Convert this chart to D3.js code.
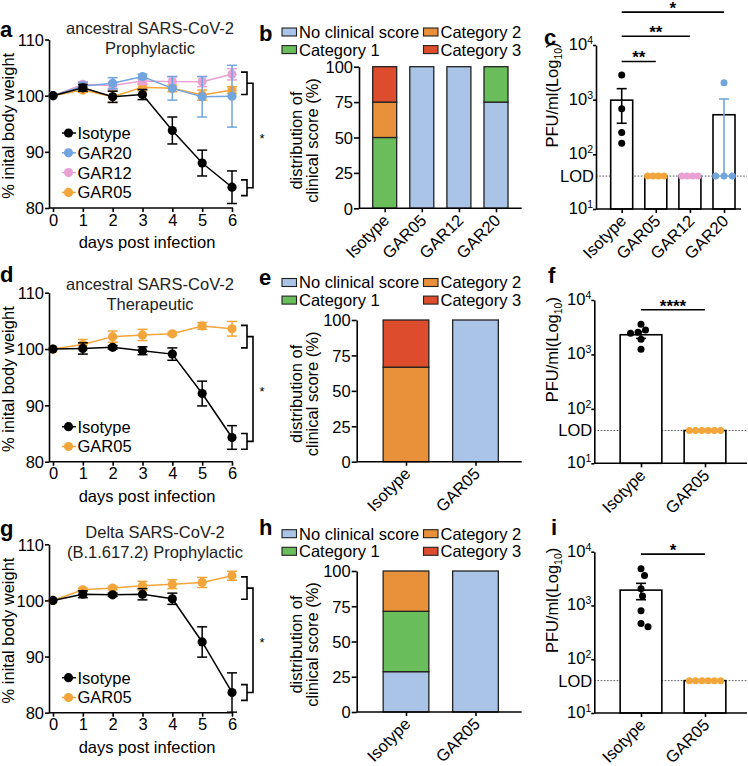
<!DOCTYPE html>
<html><head><meta charset="utf-8">
<script src="https://cdn.jsdelivr.net/npm/d3@7"></script>
<style>
body{margin:0;background:#fff}
svg{display:block}
text{font-family:"Liberation Sans",Arial,Helvetica,sans-serif;fill:#000}
</style>
</head><body>
<svg id="fig" width="748" height="766"></svg>
<script>
// ---------------- DATA ----------------
const days = [0, 1, 2, 3, 4, 5, 6];
const weightTicks = [80, 90, 100, 110];

// Panel a: ancestral SARS-CoV-2, prophylactic (% initial body weight, mean ± SEM)
const aIsotype    = [100, 101.4, 99.8, 100.2, 93.8, 88.0, 83.7];
const aIsotypeErr = [0, 0.6, 1.0, 0.9, 2.4, 2.3, 2.9];
const aGAR20      = [100, 101.7, 102.2, 103.4, 101.3, 99.8, 99.9];
const aGAR20Err   = [0, 0.7, 1.0, 0.4, 2.1, 3.6, 5.5];
const aGAR12      = [100, 102.0, 101.8, 102.6, 102.5, 102.5, 103.8];
const aGAR12Err   = [0, 0.5, 0.6, 0.6, 0.9, 0.9, 1.0];
const aGAR05      = [100, 101.0, 99.8, 101.5, 101.3, 100.1, 101.0];
const aGAR05Err   = [0, 0.4, 1.0, 0.6, 0.6, 0.9, 0.6];

// Panel d: ancestral SARS-CoV-2, therapeutic
const dIsotype    = [100, 100.1, 100.3, 99.7, 99.1, 92.1, 84.3];
const dIsotypeErr = [0, 1.0, 0.3, 0.7, 1.1, 2.2, 2.1];
const dGAR05      = [100, 100.8, 102.2, 102.5, 102.7, 104.1, 103.6];
const dGAR05Err   = [0, 0.9, 1.0, 1.0, 0.3, 0.6, 1.3];

// Panel g: Delta SARS-CoV-2, prophylactic
const gIsotype    = [100, 101.1, 101.0, 101.1, 100.3, 92.6, 83.6];
const gIsotypeErr = [0, 0.6, 0.3, 1.0, 1.0, 2.7, 3.5];
const gGAR05      = [100, 101.9, 102.2, 102.6, 102.9, 103.2, 104.4];
const gGAR05Err   = [0, 0.3, 0.3, 0.8, 0.8, 0.9, 0.8];

// significance bracket ranges at day 6 (weight units)
const bracketUpper = [100.2, 104.2];
const bracketLower = [82.2, 85.0];

// Clinical score distributions (%)
const scoreKeys = ["No clinical score", "Category 1", "Category 2", "Category 3"];
const scoreTicks = [0, 25, 50, 75, 100];
const bGroups = ["Isotype", "GAR05", "GAR12", "GAR20"];
const bNone = [0, 100, 100, 75];
const bCat1 = [50, 0, 0, 25];
const bCat2 = [25, 0, 0, 0];
const bCat3 = [25, 0, 0, 0];
const eGroups = ["Isotype", "GAR05"];
const eNone = [0, 100];
const eCat1 = [0, 0];
const eCat2 = [66.7, 0];
const eCat3 = [33.3, 0];
const hGroups = ["Isotype", "GAR05"];
const hNone = [28.6, 100];
const hCat1 = [42.8, 0];
const hCat2 = [28.6, 0];
const hCat3 = [0, 0];

// Viral titres (PFU/ml)
const LOD = 40;
const logTicks = [10, 100, 1000, 10000];
const cGroups = ["Isotype", "GAR05", "GAR12", "GAR20"];
const cMeans = [980, 40, 40, 530];
const cSem = [610, 0, 0, 500];
const cPoints = [[2820, 680, 250, 160], [40, 40, 40, 40], [40, 40, 40, 40], [2040, 40, 40, 40]];
const cSig = [["Isotype", "GAR05", "**", 5000], ["Isotype", "GAR12", "**", 14500], ["Isotype", "GAR20", "*", 40000]];
const fGroups = ["Isotype", "GAR05"];
const fMeans = [2300, 40];
const fSem = [330, 0];
const fPoints = [[3600, 2800, 2550, 2450, 1900, 1250], [40, 40, 40, 40, 40, 40]];
const fSig = [["Isotype", "GAR05", "****", 6600]];
const iGroups = ["Isotype", "GAR05"];
const iMeans = [1930, 40];
const iSem = [650, 0];
const iPoints = [[4800, 3600, 2050, 1500, 800, 400, 460], [40, 40, 40, 40, 40, 40]];
const iSig = [["Isotype", "GAR05", "*", 9000]];

// ---------------- STYLE ----------------
const groupColor = {Isotype: "#000000", GAR20: "#72a5de", GAR12: "#e9a0d2", GAR05: "#f2a53a"};
const scoreColor = {"No clinical score": "#a9c4e6", "Category 1": "#6abd5b", "Category 2": "#e8903a", "Category 3": "#dc4c2d"};
const FS = 16.5;
const svg = d3.select("#fig");

function letter(txt, x, y) {
  svg.append("text").attr("x", x).attr("y", y).attr("font-size", 22).attr("font-weight", "bold").text(txt);
}

// ---------------- LINE CHARTS ----------------
function lineChart(cfg) {
  const g = svg.append("g");
  const x = d3.scaleLinear().domain([0, 6]).range([53, 232]);
  const y = d3.scaleLinear().domain([80, 110]).range([cfg.yBottom, cfg.yTop]);
  const ax = 49;

  // y axis
  const ya = g.append("g").attr("transform", `translate(${ax},0)`)
    .call(d3.axisLeft(y).tickValues(weightTicks).tickFormat(d3.format("d")).tickSize(4).tickPadding(1).tickSizeOuter(0));
  ya.attr("font-family", null);
  ya.select(".domain").attr("stroke-width", 1.6);
  ya.selectAll(".tick line").attr("stroke-width", 1.6);
  ya.selectAll(".tick text").attr("font-size", FS).attr("dy", "0.35em");

  // x axis
  const xa = g.append("g").attr("transform", `translate(0,${cfg.yBottom})`)
    .call(d3.axisBottom(x).tickValues(days).tickFormat(d3.format("d")).tickSize(4).tickPadding(2).tickSizeOuter(0));
  xa.attr("font-family", null);
  xa.select(".domain").remove();
  xa.append("line").attr("x1", ax).attr("x2", x(6) + 1).attr("stroke", "#000").attr("stroke-width", 1.6);
  xa.selectAll(".tick line").attr("stroke-width", 1.6);
  xa.selectAll(".tick text").attr("font-size", FS);

  // titles
  cfg.title.forEach((t, i) => g.append("text").attr("x", cfg.titleX).attr("y", cfg.titleY + i * 20)
    .attr("text-anchor", "middle").attr("font-size", FS).style("fill", "#222").text(t));
  g.append("text").attr("x", 147).attr("y", cfg.yBottom + 40).attr("text-anchor", "middle")
    .attr("font-size", FS).text("days post infection");
  g.append("text").attr("transform", `translate(14,${(cfg.yBottom + cfg.yTop) / 2 + 2}) rotate(-90)`)
    .attr("text-anchor", "middle").attr("font-size", FS).text("% inital body weight");

  // series (draw in reverse so first listed is on top)
  const line = d3.line().x((d, i) => x(days[i])).y(d => y(d));
  cfg.series.slice().reverse().forEach(s => {
    const col = groupColor[s.name];
    const sg = g.append("g");
    sg.append("path").attr("d", line(s.values)).attr("fill", "none").attr("stroke", col).attr("stroke-width", 1.5);
    s.values.forEach((v, i) => {
      const e = s.err[i];
      if (e > 0) {
        const xx = x(days[i]);
        sg.append("line").attr("x1", xx).attr("x2", xx).attr("y1", y(v - e)).attr("y2", y(v + e)).attr("stroke", col).attr("stroke-width", 1.5);
        [v - e, v + e].forEach(w => sg.append("line").attr("x1", xx - 5).attr("x2", xx + 5).attr("y1", y(w)).attr("y2", y(w)).attr("stroke", col).attr("stroke-width", 1.5));
      }
    });
    sg.selectAll("circle").data(s.values).join("circle")
      .attr("cx", (d, i) => x(days[i])).attr("cy", d => y(d)).attr("r", 4.6).attr("fill", col);
  });

  // legend
  cfg.series.forEach((s, i) => {
    const ly = cfg.legendY + i * 19.8;
    const col = groupColor[s.name];
    g.append("line").attr("x1", 62).attr("x2", 76).attr("y1", ly).attr("y2", ly).attr("stroke", col).attr("stroke-width", 1.5);
    g.append("circle").attr("cx", 68.5).attr("cy", ly).attr("r", 4.6).attr("fill", col);
    g.append("text").attr("x", 77.5).attr("y", ly).attr("dy", "0.36em").attr("font-size", FS).text(s.name);
  });

  // significance bracket
  const bx = x(6) + 15;
  const bk = g.append("g").attr("stroke", "#000").attr("stroke-width", 1.6).attr("fill", "none");
  [bracketUpper, bracketLower].forEach(r => {
    bk.append("path").attr("d", `M${bx - 6},${y(r[0])}H${bx}V${y(r[1])}H${bx - 6}`);
  });
  const m1 = y(d3.mean(bracketUpper)), m2 = y(d3.mean(bracketLower));
  bk.append("path").attr("d", `M${bx},${m1}H${bx + 6}V${m2}H${bx}`);
  g.append("text").attr("x", bx + 15).attr("y", (m1 + m2) / 2 + 7).attr("text-anchor", "middle").attr("font-size", 13).style("fill", "#000").text("*");

  letter(cfg.letter, cfg.letterX, cfg.letterY);
}

// ---------------- STACKED BARS ----------------
function rotatedLabels(g, x, groups, axisY) {
  groups.forEach(gr => {
    g.append("text").attr("transform", `translate(${x(gr) + 1.5},${axisY + 9}) rotate(-45)`)
      .attr("text-anchor", "end").attr("dy", "0.35em").attr("font-size", FS).text(gr);
  });
}

function stackedChart(cfg) {
  const g = svg.append("g");
  const x = d3.scalePoint().domain(cfg.groups).range(cfg.centers);
  const y = d3.scaleLinear().domain([0, 100]).range([cfg.yBottom, cfg.yTop]);
  const rows = cfg.groups.map((gr, i) => ({
    group: gr, "No clinical score": cfg.none[i], "Category 1": cfg.cat1[i], "Category 2": cfg.cat2[i], "Category 3": cfg.cat3[i]
  }));
  const stacked = d3.stack().keys(scoreKeys)(rows);
  stacked.forEach(layer => {
    layer.forEach(seg => {
      if (seg[1] - seg[0] <= 0) return;
      g.append("rect").attr("x", x(seg.data.group) - cfg.barW / 2).attr("width", cfg.barW)
        .attr("y", y(seg[1])).attr("height", y(seg[0]) - y(seg[1]))
        .attr("fill", scoreColor[layer.key]).attr("stroke", "#222").attr("stroke-width", 1.3);
    });
  });

  const ya = g.append("g").attr("transform", `translate(${cfg.axisX},0)`)
    .call(d3.axisLeft(y).tickValues(scoreTicks).tickFormat(d3.format("d")).tickSize(5).tickPadding(1).tickSizeOuter(0));
  ya.attr("font-family", null);
  ya.select(".domain").attr("stroke-width", 1.6);
  ya.selectAll(".tick line").attr("stroke-width", 1.6);
  ya.selectAll(".tick text").attr("font-size", FS).attr("dy", "0.35em");

  const xa = g.append("g").attr("transform", `translate(0,${cfg.yBottom})`)
    .call(d3.axisBottom(x).tickSize(4).tickSizeOuter(0).tickFormat(""));
  xa.select(".domain").remove();
  xa.append("line").attr("x1", cfg.axisX).attr("x2", cfg.xEnd).attr("stroke", "#000").attr("stroke-width", 1.6);
  xa.selectAll(".tick line").attr("stroke-width", 1.6);
  rotatedLabels(g, x, cfg.groups, cfg.yBottom);

  // y title
  const cy = (cfg.yTop + cfg.yBottom) / 2 + 3;
  g.append("text").attr("transform", `translate(302,${cy}) rotate(-90)`).attr("text-anchor", "middle").attr("font-size", FS).text("distribution of");
  g.append("text").attr("transform", `translate(318,${cy}) rotate(-90)`).attr("text-anchor", "middle").attr("font-size", FS).text("clinical score (%)");

  // legend
  const legendOrder = [["No clinical score", 0, 0], ["Category 2", 1, 0], ["Category 1", 0, 1], ["Category 3", 1, 1]];
  legendOrder.forEach(([k, col, row]) => {
    const lx = col ? 423.5 : 282;
    const ly = cfg.legendY + row * 17.6;
    g.append("rect").attr("x", lx).attr("y", ly - 4).attr("width", 14.5).attr("height", 8)
      .attr("fill", scoreColor[k]).attr("stroke", "#222").attr("stroke-width", 1.1);
    g.append("text").attr("x", lx + 17).attr("y", ly).attr("dy", "0.36em").attr("font-size", FS).text(k);
  });

  letter(cfg.letter, cfg.letterX, cfg.letterY);
}

// ---------------- LOG BAR + DOT CHARTS ----------------
function swarm(values, y, cx, r, barW) {
  const pos = new Array(values.length);
  const placed = [];
  const counts = d3.rollup(values, v => v.length, v => v);
  const ties = new Map();
  values.forEach((v, i) => { if (counts.get(v) > 1) { if (!ties.has(v)) ties.set(v, []); ties.get(v).push(i); } });
  ties.forEach((idx, v) => {
    const k = idx.length;
    const sp = Math.min(2 * r + 1.7, barW * 0.75 / (k - 1));
    idx.forEach((i, j) => { pos[i] = cx + (j - (k - 1) / 2) * sp; placed.push([pos[i], y(v)]); });
  });
  const rest = values.map((v, i) => i).filter(i => pos[i] === undefined).sort((a, b) => values[b] - values[a]);
  rest.forEach(i => {
    const py = y(values[i]);
    for (let k = 0; k < 400; k++) {
      const off = (k % 2 ? 1 : -1) * Math.ceil(k / 2) * 0.5;
      const px = cx + off;
      if (placed.every(([qx, qy]) => Math.hypot(qx - px, qy - py) >= 2 * r + 0.4)) {
        pos[i] = px; placed.push([px, py]); break;
      }
    }
  });
  return pos;
}

function logChart(cfg) {
  const g = svg.append("g");
  const x = d3.scalePoint().domain(cfg.groups).range(cfg.centers);
  const y = d3.scaleLog().domain([10, 10000]).range([cfg.y10, cfg.y1e4]);

  // LOD dotted line
  g.append("line").attr("x1", cfg.axisX).attr("x2", cfg.lodEnd).attr("y1", y(LOD)).attr("y2", y(LOD))
    .attr("stroke", "#555").attr("stroke-width", 1).attr("stroke-dasharray", "1.6,1.6");

  // bars
  cfg.groups.forEach((gr, i) => {
    g.append("rect").attr("x", x(gr) - cfg.barW / 2).attr("width", cfg.barW)
      .attr("y", y(cfg.means[i])).attr("height", cfg.y10 - y(cfg.means[i]))
      .attr("fill", "#fff").attr("stroke", "#000").attr("stroke-width", 1.6);
  });

  // points
  const r = 3.5;
  cfg.groups.forEach((gr, i) => {
    const xs = swarm(cfg.points[i], y, x(gr), r, cfg.barW);
    cfg.points[i].forEach((v, j) => {
      g.append("circle").attr("cx", xs[j]).attr("cy", y(v)).attr("r", r).attr("fill", groupColor[gr]);
    });
  });

  // error bars
  cfg.groups.forEach((gr, i) => {
    const s = cfg.sem[i];
    if (!(s > 0)) return;
    const m = cfg.means[i], cx = x(gr), col = groupColor[gr];
    const lo = Math.max(m - s, LOD), hi = m + s;
    g.append("line").attr("x1", cx).attr("x2", cx).attr("y1", y(lo)).attr("y2", y(hi)).attr("stroke", col).attr("stroke-width", 1.6);
    [lo, hi].forEach(w => g.append("line").attr("x1", cx - 5).attr("x2", cx + 5).attr("y1", y(w)).attr("y2", y(w)).attr("stroke", col).attr("stroke-width", 1.6));
  });

  // y axis
  const ya = g.append("g").attr("transform", `translate(${cfg.axisX},0)`)
    .call(d3.axisLeft(y).tickValues(logTicks).tickSize(3).tickSizeOuter(0).tickFormat(""));
  ya.select(".domain").attr("stroke-width", 1.6);
  ya.selectAll(".tick line").attr("stroke-width", 1.6);
  logTicks.forEach(t => {
    const tx = g.append("text").attr("x", cfg.axisX - 3).attr("y", y(t) + 5).attr("text-anchor", "end").attr("font-size", FS);
    tx.append("tspan").text("10");
    tx.append("tspan").attr("dy", -6).attr("font-size", 10.5).text(String(Math.round(Math.log10(t))));
  });
  g.append("text").attr("x", cfg.axisX - 2).attr("y", y(LOD)).attr("dy", "0.36em").attr("text-anchor", "end").attr("font-size", FS).text("LOD");

  // x axis
  const xa = g.append("g").attr("transform", `translate(0,${cfg.y10})`)
    .call(d3.axisBottom(x).tickSize(4).tickSizeOuter(0).tickFormat(""));
  xa.select(".domain").remove();
  xa.append("line").attr("x1", cfg.axisX).attr("x2", cfg.xEnd).attr("stroke", "#000").attr("stroke-width", 1.6);
  xa.selectAll(".tick line").attr("stroke-width", 1.6);
  rotatedLabels(g, x, cfg.groups, cfg.y10);

  // y title
  const t = g.append("text").attr("transform", `translate(558,${(cfg.y10 + cfg.y1e4) / 2 - 32}) rotate(-90)`)
    .attr("text-anchor", "middle").attr("font-size", FS);
  t.append("tspan").text("PFU/ml(Log");
  t.append("tspan").attr("dy", 4).attr("font-size", 10.5).text("10");
  t.append("tspan").attr("dy", -4).text(")");

  // significance
  cfg.sig.forEach(([g1, g2, lab, v]) => {
    const yy = y(v);
    g.append("line").attr("x1", x(g1)).attr("x2", x(g2)).attr("y1", yy).attr("y2", yy).attr("stroke", "#000").attr("stroke-width", 1.6);
    g.append("text").attr("x", (x(g1) + x(g2)) / 2).attr("y", yy + 2).attr("text-anchor", "middle")
      .attr("font-size", 17).attr("font-weight", "bold").text(lab);
  });

  letter(cfg.letter, cfg.letterX, cfg.letterY);
}

// ---------------- BUILD ----------------
lineChart({letter: "a", letterX: 0, letterY: 37, yTop: 39.5, yBottom: 208, title: ["ancestral SARS-CoV-2", "Prophylactic"], titleX: 150, titleY: 33.5, legendY: 133,
  series: [{name: "Isotype", values: aIsotype, err: aIsotypeErr}, {name: "GAR20", values: aGAR20, err: aGAR20Err},
           {name: "GAR12", values: aGAR12, err: aGAR12Err}, {name: "GAR05", values: aGAR05, err: aGAR05Err}]});
lineChart({letter: "d", letterX: 0, letterY: 282, yTop: 292.7, yBottom: 461.7, title: ["ancestral SARS-CoV-2", "Therapeutic"], titleX: 150, titleY: 290, legendY: 426.7,
  series: [{name: "Isotype", values: dIsotype, err: dIsotypeErr}, {name: "GAR05", values: dGAR05, err: dGAR05Err}]});
lineChart({letter: "g", letterX: 0, letterY: 536, yTop: 544.3, yBottom: 712.7, title: ["Delta SARS-CoV-2", "(B.1.617.2) Prophylactic"], titleX: 155, titleY: 537.7, legendY: 677.7,
  series: [{name: "Isotype", values: gIsotype, err: gIsotypeErr}, {name: "GAR05", values: gGAR05, err: gGAR05Err}]});

stackedChart({letter: "b", letterX: 259, letterY: 40.5, groups: bGroups, none: bNone, cat1: bCat1, cat2: bCat2, cat3: bCat3,
  axisX: 359, centers: [384.7, 496], barW: 24, yTop: 66.7, yBottom: 208.3, xEnd: 521.7, legendY: 32});
stackedChart({letter: "e", letterX: 259, letterY: 285, groups: eGroups, none: eNone, cat1: eCat1, cat2: eCat2, cat3: eCat3,
  axisX: 356.7, centers: [406, 475.5], barW: 45.7, yTop: 320, yBottom: 461.7, xEnd: 521.7, legendY: 282.5});
stackedChart({letter: "h", letterX: 259, letterY: 535, groups: hGroups, none: hNone, cat1: hCat1, cat2: hCat2, cat3: hCat3,
  axisX: 356.7, centers: [406, 475.5], barW: 45.7, yTop: 571, yBottom: 712, xEnd: 521.7, legendY: 533.7});

logChart({letter: "c", letterX: 544, letterY: 45, groups: cGroups, means: cMeans, sem: cSem, points: cPoints, sig: cSig,
  axisX: 596, centers: [621.7, 724], barW: 22, y10: 209, y1e4: 45, xEnd: 741, lodEnd: 747});
logChart({letter: "f", letterX: 548, letterY: 283, groups: fGroups, means: fMeans, sem: fSem, points: fPoints, sig: fSig,
  axisX: 594.3, centers: [641, 705], barW: 41.7, y10: 463.3, y1e4: 300, xEnd: 747, lodEnd: 748});
logChart({letter: "i", letterX: 551, letterY: 535, groups: iGroups, means: iMeans, sem: iSem, points: iPoints, sig: iSig,
  axisX: 594.3, centers: [641, 705], barW: 41.7, y10: 713, y1e4: 551.7, xEnd: 747, lodEnd: 748});
</script>
</body></html>
